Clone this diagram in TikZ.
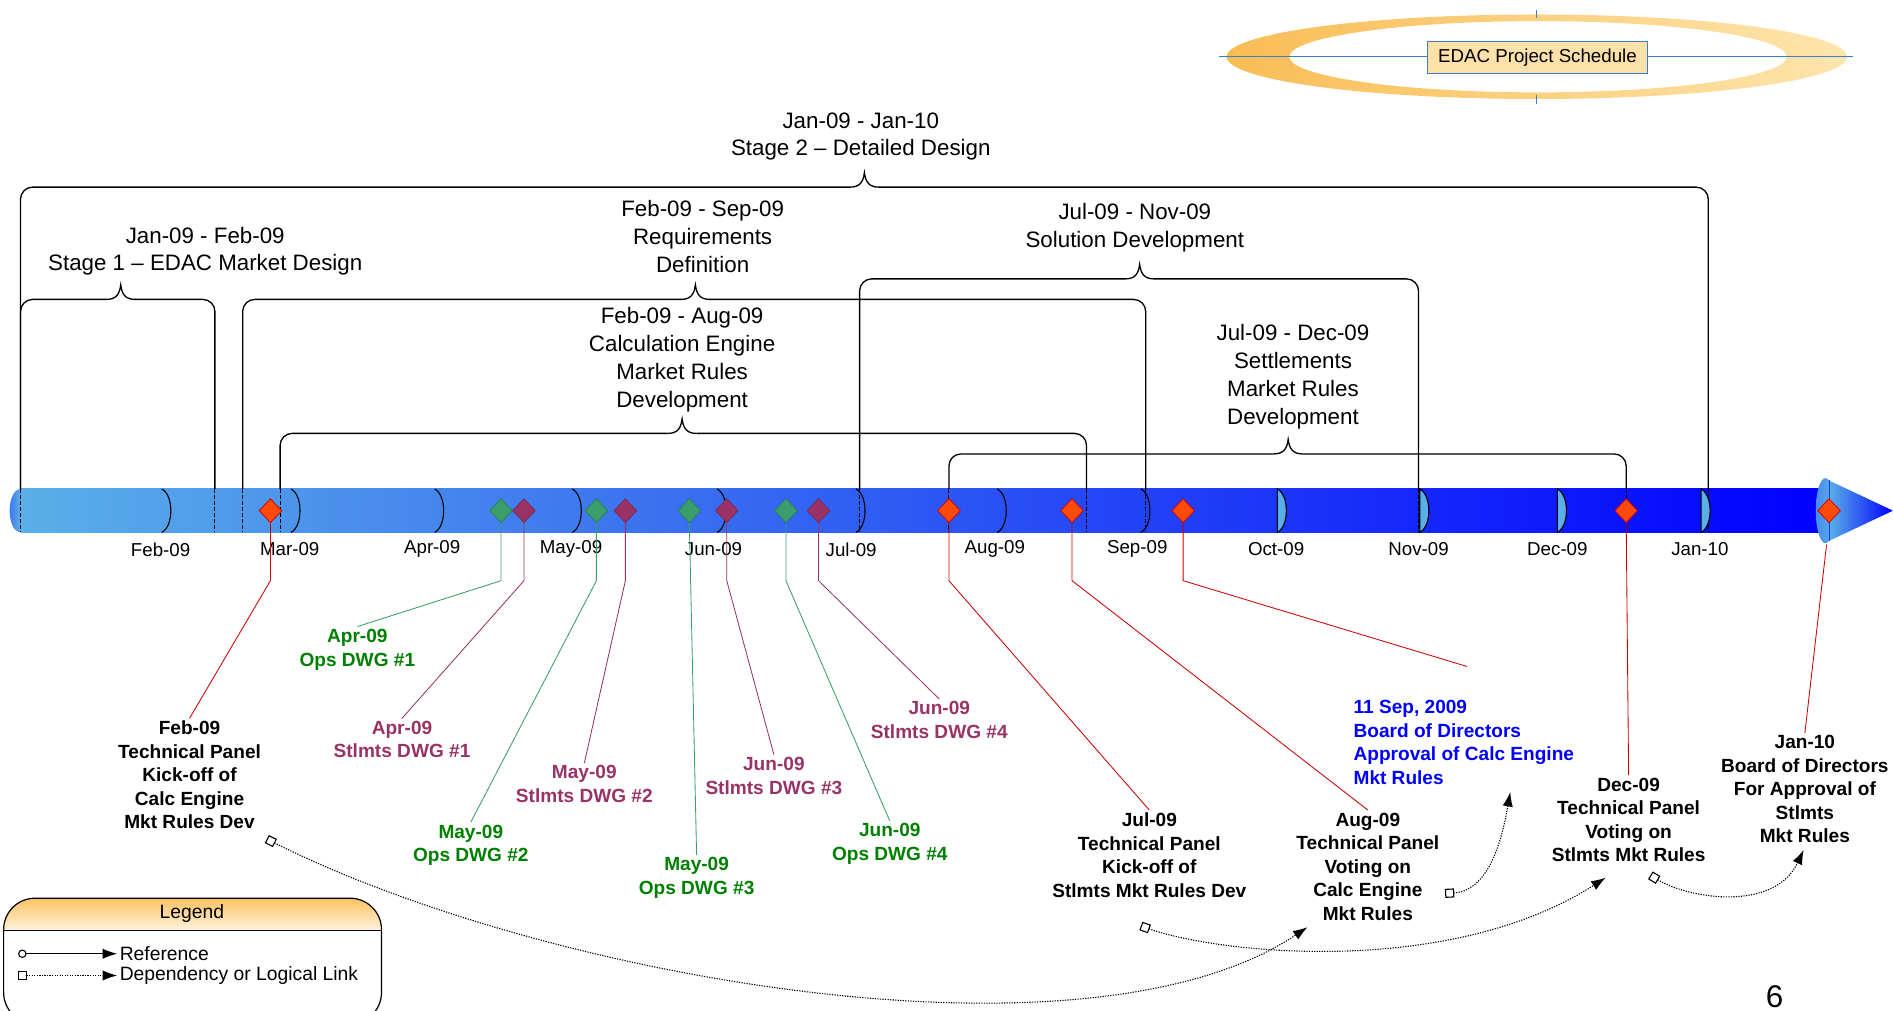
\documentclass[tikz,border=0pt]{standalone}
\usepackage{fontspec}
\setmainfont{Liberation Sans}
\usepackage{xcolor}
\usepackage{tikz}
\usetikzlibrary{positioning,arrows.meta,shapes.geometric}

\definecolor{barlight}{HTML}{5AAFE8}
\definecolor{bardeep}{HTML}{0000FF}
\definecolor{opsgreen}{HTML}{008000}
\definecolor{opsline}{HTML}{3A9D6C}
\definecolor{stlpurple}{HTML}{993366}
\definecolor{msline}{HTML}{CC0000}
\definecolor{msfill}{HTML}{FF4A0A}
\definecolor{ringdark}{HTML}{F9BD55}
\definecolor{ringlight}{HTML}{FDE5AD}
\definecolor{titlefill}{HTML}{FDE1A9}
\definecolor{titleline}{HTML}{3C7DC4}
\definecolor{legendtop}{HTML}{FBC262}

\begin{document}
\begin{tikzpicture}[x=1pt, y=-1pt,
    phase/.style={line width=1.1pt, rounded corners=10pt},
    inbar/.style={line width=0.9pt, dash pattern=on 3pt off 2pt},
    phasetext/.style={font=\fontsize{18.5}{23}\selectfont, align=center, inner sep=0pt},
    monthmark/.style={line width=0.9pt},
    monthtext/.style={font=\fontsize{15.5}{18}\selectfont, inner sep=0pt},
    milestone/.style={diamond, draw=msline, fill=msfill, line width=0.6pt, minimum width=19pt, minimum height=20pt, inner sep=0pt},
    opsmark/.style={milestone, draw=opsline!80!black, fill=opsline},
    stlmark/.style={milestone, draw=stlpurple!80!black, fill=stlpurple},
    mslabel/.style={font=\fontsize{15.8}{19.5}\selectfont\bfseries, align=center, inner sep=2pt, anchor=north},
    opslabel/.style={mslabel, text=opsgreen},
    stllabel/.style={mslabel, text=stlpurple},
    redline/.style={draw=msline, line width=0.7pt},
    greenline/.style={draw=opsline, line width=0.7pt},
    purpleline/.style={draw=stlpurple, line width=0.7pt},
    depend/.style={line width=0.9pt, dash pattern=on 1pt off 1.1pt, arrows={Square[open,length=7.5pt,width=7.5pt]-Latex[length=12pt,width=8.5pt]}},
    reference/.style={line width=0.9pt, arrows={Circle[open,length=7pt,width=7pt]-Latex[length=12pt,width=8.5pt]}},
    legtext/.style={font=\fontsize{16}{19}\selectfont, inner sep=2pt}]

    \path[use as bounding box, clip] (0,0) rectangle (1568,837);

    \shade[even odd rule, left color=ringdark, right color=ringlight] (1273,47) ellipse [x radius=257pt, y radius=35pt] (1274,47) ellipse [x radius=206pt, y radius=29.5pt];
    \draw[titleline, line width=0.8pt] (1010,47) -- (1535,47);
    \draw[titleline, line width=0.8pt] (1273,8) -- (1273,15) (1273,79) -- (1273,86);
    \node[draw=titleline, fill=titlefill, line width=0.8pt, minimum width=183pt, minimum height=27pt, inner sep=0pt, font=\fontsize{15.5}{18}\selectfont] (title) at (1273.5,47.5) {EDAC Project Schedule};

    \shade[left color=barlight, right color=bardeep] (17,405) rectangle (1512,441);
    \shade[left color=barlight!60!blue, right color=barlight] (17,405) .. controls (5,406) and (5,440) .. (17,441) -- cycle;
    \shade[left color=barlight!80!blue, right color=barlight] (1512,423) ellipse [x radius=8pt, y radius=27pt];
    \shade[left color=barlight, right color=bardeep] (1515,398) -- (1568,423) -- (1515,448) -- cycle;
    \draw[blue!70!barlight, line width=0.8pt] (1515,398) -- (1515,448);

    \foreach \xa/\xb/\xm/\yt in {17/1415/716/155, 17/178/100/248, 201/949/576/248, 712/1175/944/231, 232/900/565/359, 786/1347/1067/376} {
      \draw[phase] (\xa,405) -- (\xa,\yt) -- (\xm-12,\yt);
      \draw[line width=1.1pt] (\xm-12,\yt) .. controls (\xm-4,\yt) and (\xm-1,\yt-4) .. (\xm,\yt-12) .. controls (\xm+1,\yt-4) and (\xm+4,\yt) .. (\xm+12,\yt);
      \draw[phase] (\xm+12,\yt) -- (\xb,\yt) -- (\xb,405);
      \draw[inbar] (\xa,405) -- (\xa,441) (\xb,405) -- (\xb,441);
    }

    \node[phasetext] (stagetwo) at (713,113) {Jan-09 - Jan-10\\Stage 2 -- Detailed Design};
    \node[phasetext] (stageone) at (170,208) {Jan-09 - Feb-09\\Stage 1 -- EDAC Market Design};
    \node[phasetext] (reqdef) at (582,196) {Feb-09 - Sep-09\\Requirements\\Definition};
    \node[phasetext] (soldev) at (940,188.5) {Jul-09 - Nov-09\\Solution Development};
    \node[phasetext] (calceng) at (565,298) {Feb-09 - Aug-09\\Calculation Engine\\Market Rules\\Development};
    \node[phasetext] (stlrules) at (1071,312) {Jul-09 - Dec-09\\Settlements\\Market Rules\\Development};

    \foreach \x in {134,241,360,474,594,709,826,945}
      \draw[monthmark] (\x,405) .. controls (\x+10,410) and (\x+10,436) .. (\x,441);
    \foreach \x in {1058,1176,1290,1409}
      \draw[monthmark, fill=barlight] (\x,405) .. controls (\x+10,410) and (\x+10,436) .. (\x,441) -- cycle;
    \foreach \x/\m [count=\i] in {133/Feb-09, 240/Mar-09, 358/Apr-09, 473/May-09, 591/Jun-09, 705/Jul-09, 824/Aug-09, 942/Sep-09, 1057/Oct-09, 1175/Nov-09, 1290/Dec-09, 1408/Jan-10}
      \node[monthtext] (month\i) at (\x,455) {\m};

    \node[milestone] (mfeb) at (224,423) {};
    \node[opsmark] (ops1) at (415,423) {};
    \node[stlmark] (stl1) at (434,423) {};
    \node[opsmark] (ops2) at (494,423) {};
    \node[stlmark] (stl2) at (518,423) {};
    \node[opsmark] (ops3) at (571,423) {};
    \node[stlmark] (stl3) at (602,423) {};
    \node[opsmark] (ops4) at (651,423) {};
    \node[stlmark] (stl4) at (678,423) {};
    \node[milestone] (mjul) at (786,423) {};
    \node[milestone] (maug) at (888,423) {};
    \node[milestone] (msep) at (980,423) {};
    \node[milestone] (mdec) at (1347,423) {};
    \node[milestone] (mjan) at (1515,423) {};

    \node[mslabel] (lfeb) at (157,595) {Feb-09\\Technical Panel\\Kick-off of\\Calc Engine\\Mkt Rules Dev};
    \node[opslabel] (lops1) at (296,519) {Apr-09\\Ops DWG \#1};
    \node[stllabel] (lst1) at (333,595) {Apr-09\\Stlmts DWG \#1};
    \node[opslabel] (lops2) at (390,681) {May-09\\Ops DWG \#2};
    \node[stllabel] (lst2) at (484,632) {May-09\\Stlmts DWG \#2};
    \node[opslabel] (lops3) at (577,708) {May-09\\Ops DWG \#3};
    \node[stllabel] (lst3) at (641,625) {Jun-09\\Stlmts DWG \#3};
    \node[opslabel] (lops4) at (737,680) {Jun-09\\Ops DWG \#4};
    \node[stllabel] (lst4) at (778,579) {Jun-09\\Stlmts DWG \#4};
    \node[mslabel] (ljul) at (952,671) {Jul-09\\Technical Panel\\Kick-off of\\Stlmts Mkt Rules Dev};
    \node[mslabel] (laug) at (1133,671) {Aug-09\\Technical Panel\\Voting on\\Calc Engine\\Mkt Rules};
    \node[mslabel, anchor=north west, align=left, text=blue] (lsep) at (1119,578) {11 Sep, 2009\\Board of Directors\\Approval of Calc Engine\\Mkt Rules};
    \node[mslabel] (ldec) at (1349,642) {Dec-09\\Technical Panel\\Voting on\\Stlmts Mkt Rules};
    \node[mslabel] (ljan) at (1495,607) {Jan-10\\Board of Directors\\For Approval of\\Stlmts\\Mkt Rules};

    \coordinate (kink) at (0,481);
    \coordinate (sepend) at (1215,552);
    \draw[redline] (mfeb.south) -- (mfeb |- kink) -- (lfeb.north);
    \draw[greenline] (ops1.south) -- (ops1 |- kink) -- (lops1.north);
    \draw[purpleline] (stl1.south) -- (stl1 |- kink) -- (lst1.north);
    \draw[greenline] (ops2.south) -- (ops2 |- kink) -- (lops2.north);
    \draw[purpleline] (stl2.south) -- (stl2 |- kink) -- (lst2.north);
    \draw[greenline] (ops3.south) -- (lops3.north);
    \draw[purpleline] (stl3.south) -- (stl3 |- kink) -- (lst3.north);
    \draw[greenline] (ops4.south) -- (ops4 |- kink) -- (lops4.north);
    \draw[purpleline] (stl4.south) -- (stl4 |- kink) -- (lst4.north);
    \draw[redline] (mjul.south) -- (mjul |- kink) -- (ljul.north);
    \draw[redline] (maug.south) -- (maug |- kink) -- (laug.north);
    \draw[redline] (msep.south) -- (msep |- kink) -- (sepend);
    \draw[redline] (mdec.south) -- (ldec.north);
    \draw[redline, shorten <=18pt] (mjan.south) -- (ljan.north);

    \coordinate (dep1a) at (221,695);
    \coordinate (dep1b) at (1083,768);
    \coordinate (dep2a) at (945,767);
    \coordinate (dep2b) at (1330,727);
    \coordinate (dep3a) at (1197,740);
    \coordinate (dep3b) at (1251,656);
    \coordinate (dep4a) at (1367,725);
    \coordinate (dep4b) at (1494,704);
    \draw[depend] (dep1a) .. controls (450,810) and (900,890) .. (dep1b);
    \draw[depend] (dep2a) .. controls (1010,790) and (1200,810) .. (dep2b);
    \draw[depend] (dep3a) .. controls (1235,738) and (1245,690) .. (dep3b);
    \draw[depend] (dep4a) .. controls (1400,745) and (1470,755) .. (dep4b);

    \begin{scope}
      \clip[rounded corners=26pt] (3,744) rectangle (316,848);
      \shade[top color=legendtop, bottom color=legendtop!20] (3,744) rectangle (316,771);
    \end{scope}
    \draw[line width=1pt, rounded corners=26pt] (3,744) rectangle (316,848);
    \draw[line width=0.8pt] (3,771) -- (316,771);
    \node[legtext] (legend) at (159,757) {Legend};
    \coordinate (refa) at (15,790);
    \coordinate (depa) at (15,808);
    \node[legtext, right=82pt of refa] (legref) {Reference};
    \node[legtext, right=82pt of depa] (legdep) {Dependency or Logical Link};
    \draw[reference] (refa) -- (legref);
    \draw[depend] (depa) -- (legdep);

    \node[font=\fontsize{26}{30}\selectfont, inner sep=0pt, anchor=north] (pagenum) at (1470,816) {6};
\end{tikzpicture}
\end{document}
